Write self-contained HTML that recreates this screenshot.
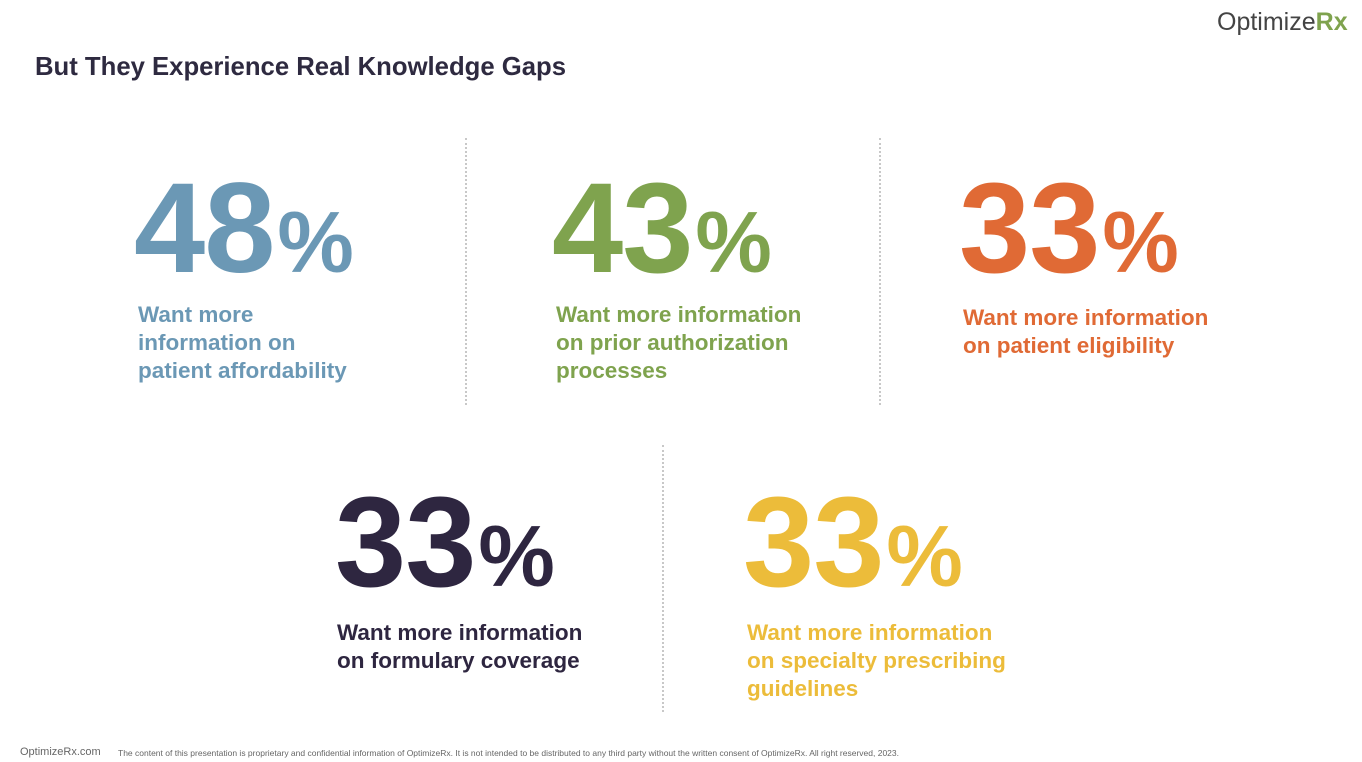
<!DOCTYPE html>
<html><head><style>
body{margin:0;width:1362px;height:762px;background:#fff;position:relative;overflow:hidden;font-family:"Liberation Sans",sans-serif}
.a{position:absolute;white-space:nowrap}
.n{font-weight:bold;font-size:128px;line-height:128px;letter-spacing:-1px}
.n span{font-size:86px;letter-spacing:0;margin-left:3px}
.t{font-weight:bold;font-size:22.5px;line-height:28px}
.d{position:absolute;width:0;border-left:2px dotted #c8c8c8}
</style></head><body>
<div class="a" style="left:1217px;top:8px;font-size:25px;color:#444">Optimize<b style="color:#7fa34e">Rx</b></div>
<div class="a" style="left:35px;top:53px;font-size:25.7px;font-weight:bold;color:#2e2a40">But They Experience Real Knowledge Gaps</div>
<div class="d" style="left:465px;top:138px;height:267px"></div>
<div class="d" style="left:879px;top:138px;height:267px"></div>
<div class="d" style="left:662px;top:445px;height:267px"></div>

<div class="a n" style="left:134px;top:165px;color:#6b98b5">48<span>%</span></div>
<div class="a t" style="left:138px;top:301px;color:#6b98b5">Want more<br>information on<br>patient affordability</div>

<div class="a n" style="left:552px;top:165px;color:#7fa34e">43<span>%</span></div>
<div class="a t" style="left:556px;top:301px;color:#7fa34e">Want more information<br>on prior authorization<br>processes</div>

<div class="a n" style="left:959px;top:165px;color:#e06a35">33<span>%</span></div>
<div class="a t" style="left:963px;top:304px;color:#e06a35">Want more information<br>on patient eligibility</div>

<div class="a n" style="left:335px;top:479px;color:#2e2640">33<span>%</span></div>
<div class="a t" style="left:337px;top:619px;color:#2e2640">Want more information<br>on formulary coverage</div>

<div class="a n" style="left:743px;top:479px;color:#ecbc3a">33<span>%</span></div>
<div class="a t" style="left:747px;top:619px;color:#ecbc3a">Want more information<br>on specialty prescribing<br>guidelines</div>

<div class="a" style="left:20px;top:746px;font-size:11px;color:#666">OptimizeRx.com</div>
<div class="a" style="left:118px;top:748px;font-size:8.5px;color:#666">The content of this presentation is proprietary and confidential information of OptimizeRx. It is not intended to be distributed to any third party without the written consent of OptimizeRx. All right reserved, 2023.</div>
</body></html>
